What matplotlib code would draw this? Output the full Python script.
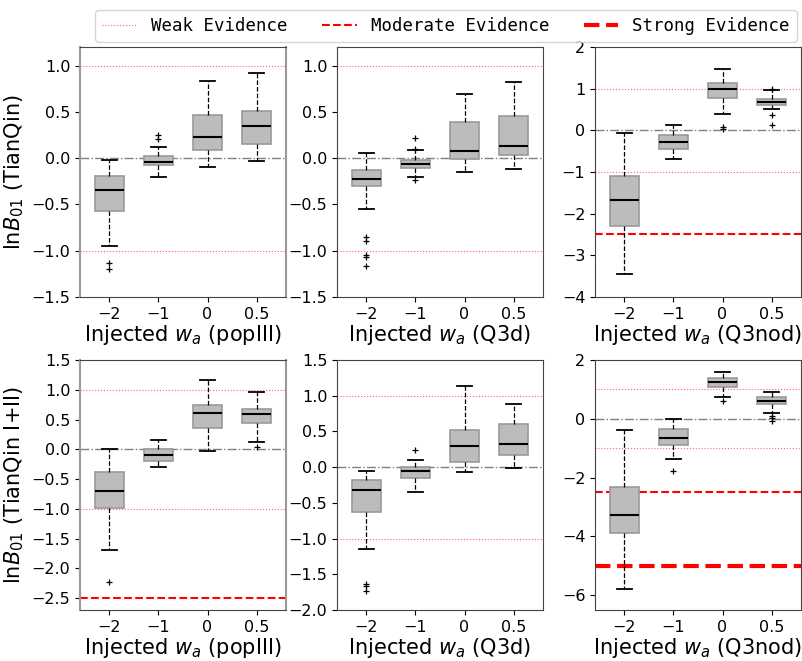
import matplotlib.pyplot as plt
from matplotlib.lines import Line2D

# injected w_a values (box order) and the three seed models / two detectors
wa_labels = ['\u22122', '\u22121', '0', '0.5']
models = ['popIII', 'Q3d', 'Q3nod']
detectors = ['TianQin', 'TianQin I+II']

# box statistics, one row per panel (row-major)
medians = [
    [-0.347, -0.040, 0.224, 0.343],
    [-0.224, -0.061, 0.079, 0.126],
    [-1.670, -0.273, 0.996, 0.683],
    [-0.706, -0.090, 0.605, 0.594],
    [-0.322, -0.051, 0.294, 0.327],
    [-3.260, -0.667, 1.267, 0.611],
]
q1s = [
    [-0.567, -0.076, 0.087, 0.152],
    [-0.303, -0.105, -0.007, 0.032],
    [-2.305, -0.450, 0.779, 0.610],
    [-0.980, -0.190, 0.364, 0.448],
    [-0.630, -0.145, 0.079, 0.177],
    [-3.880, -0.894, 1.086, 0.498],
]
q3s = [
    [-0.195, 0.018, 0.466, 0.513],
    [-0.130, -0.025, 0.390, 0.451],
    [-1.108, -0.112, 1.133, 0.747],
    [-0.375, 0.000, 0.745, 0.683],
    [-0.177, 0.000, 0.518, 0.607],
    [-2.310, -0.350, 1.380, 0.735],
]
whis_lo = [
    [-0.950, -0.206, -0.094, -0.032],
    [-0.549, -0.206, -0.148, -0.116],
    [-3.450, -0.700, 0.400, 0.506],
    [-1.700, -0.290, -0.028, 0.129],
    [-1.148, -0.345, -0.070, -0.009],
    [-5.770, -1.380, 0.758, 0.204],
]
whis_hi = [
    [-0.020, 0.115, 0.838, 0.917],
    [0.054, 0.087, 0.690, 0.820],
    [-0.064, 0.120, 1.462, 0.956],
    [0.005, 0.163, 1.170, 0.969],
    [-0.047, 0.107, 1.143, 0.891],
    [-0.396, 0.011, 1.606, 0.916],
]
outliers = [
    [[-1.13, -1.20], [0.25, 0.21], [], []],
    [[-0.85, -0.89, -1.05, -1.07, -1.16], [0.22, 0.10, -0.235], [], []],
    [[], [], [0.08, 0.04], [0.98, 0.37, 0.12]],
    [[-2.235], [], [], [0.045]],
    [[-1.63, -1.67, -1.74], [0.247], [], []],
    [[], [-1.765], [0.60], [0.11, 0.03, -0.09]],
]

ylims = [(-1.5, 1.2), (-1.5, 1.2), (-4, 2), (-2.7, 1.5), (-2, 1.5), (-6.5, 2)]
yticks = [
    [-1.5, -1.0, -0.5, 0.0, 0.5, 1.0],
    [-1.5, -1.0, -0.5, 0.0, 0.5, 1.0],
    [-4, -3, -2, -1, 0, 1, 2],
    [-2.5, -2.0, -1.5, -1.0, -0.5, 0.0, 0.5, 1.0, 1.5],
    [-2.0, -1.5, -1.0, -0.5, 0.0, 0.5, 1.0, 1.5],
    [-6, -4, -2, 0, 2],
]

# evidence thresholds
weak, moderate, strong = 1.0, 2.5, 5.0

W, H = 803, 661
fig = plt.figure(figsize=(W / 100, H / 100), dpi=100)

lefts = [80, 337, 595]
tops = [47, 360]
aw, ah = 206, 250

for k in range(6):
    r, c = divmod(k, 3)
    ax = fig.add_axes([lefts[c] / W, 1 - (tops[r] + ah) / H, aw / W, ah / H])
    stats = []
    for i in range(4):
        stats.append(dict(med=medians[k][i], q1=q1s[k][i], q3=q3s[k][i],
                          whislo=whis_lo[k][i], whishi=whis_hi[k][i],
                          fliers=outliers[k][i]))
    ax.axhline(0, color='grey', ls='-.', lw=1, zorder=1)
    ax.axhline(weak, color='red', ls=':', lw=0.8, alpha=0.6, zorder=1)
    ax.axhline(-weak, color='red', ls=':', lw=0.8, alpha=0.6, zorder=1)
    ax.axhline(-moderate, color='red', ls='--', lw=1.5, zorder=1)
    ax.axhline(-strong, color='red', ls='--', lw=3, zorder=1)
    ax.bxp(stats, positions=[1, 2, 3, 4], widths=0.6, patch_artist=True,
           boxprops=dict(facecolor='#bcbcbc', edgecolor='#9a9a9a', lw=1.2),
           medianprops=dict(color='black', lw=1.5),
           whiskerprops=dict(color='black', ls='--', lw=0.9),
           capprops=dict(color='black', lw=1.3),
           flierprops=dict(marker='+', markeredgecolor='black',
                           markersize=5, markeredgewidth=0.9))
    ax.set_xlim(0.4, 4.6)
    ax.set_ylim(*ylims[k])
    ax.set_yticks(yticks[k])
    ax.set_xticks([1, 2, 3, 4])
    ax.set_xticklabels(wa_labels)
    ax.tick_params(labelsize=11.5)
    for s in ax.spines.values():
        s.set_color('#444444')
    if c == 0:
        ax.spines['left'].set_color('#999999')
        ax.spines['left'].set_linewidth(1.5)
        ax.spines['right'].set_color('#999999')
        ax.spines['right'].set_linewidth(1.5)
    ax.set_xlabel(r'Injected $w_a$ (%s)' % models[c], fontsize=15, labelpad=1)
    if c == 0:
        ax.set_ylabel(r'ln$B_{01}$ (%s)' % detectors[r], fontsize=15)

handles = [
    Line2D([], [], color='red', ls=':', lw=0.8, alpha=0.6),
    Line2D([], [], color='red', ls='--', lw=1.5),
    Line2D([], [], color='red', ls='--', lw=3),
]
fig.legend(handles, ['Weak Evidence', 'Moderate Evidence', 'Strong Evidence'],
           ncol=3, loc='upper center', bbox_to_anchor=(446 / W, 1 - 1 / H),
           prop={'family': 'DejaVu Sans Mono', 'size': 12.5})

fig.savefig('out.png', dpi=100)
